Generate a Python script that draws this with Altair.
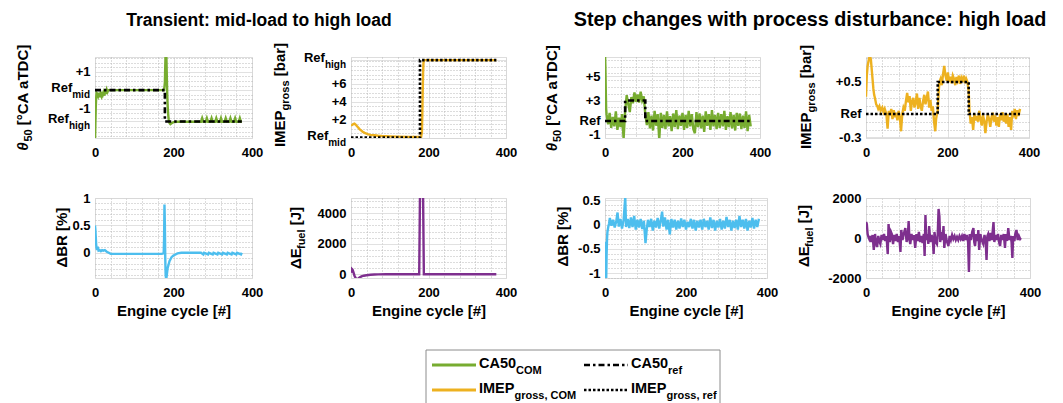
import json
import altair as alt
import pandas as pd

# ---------------- data ----------------
# Transient: mid-load -> high load   (x = engine cycle, y = axis units)
ca50_tr_com = [(0, -2.9), (1, -1.8), (2, -0.9), (3, -0.4), (4, -0.15), (6, -0.2), (8, -0.32), (10, -0.15),
               (12, -0.38), (14, -0.18), (16, -0.3), (18, -0.08), (20, -0.25), (22, -0.12), (24, -0.3),
               (26, -0.05), (28, -0.2), (30, 0.02), (32, -0.1), (34, 0.0), (40, 0.0), (100, 0.0), (170, 0.0),
               (176, 0.0), (178, 0.4), (179, 1.3), (180, 2.1), (181, 2.3), (182, 1.7), (183, 0.7), (184, -0.2),
               (185, -0.8), (186, -1.2), (187, -1.45), (188, -1.62), (190, -1.8), (192, -1.85), (195, -1.8),
               (200, -1.74), (210, -1.72), (270, -1.72), (273, -1.52), (276, -1.72), (282, -1.72), (285, -1.52),
               (288, -1.72), (294, -1.72), (297, -1.52), (300, -1.72), (306, -1.72), (309, -1.52), (312, -1.72),
               (318, -1.72), (321, -1.52), (324, -1.72), (330, -1.72), (333, -1.52), (336, -1.72), (342, -1.72),
               (345, -1.52), (348, -1.72), (354, -1.72), (357, -1.52), (360, -1.72), (366, -1.72), (369, -1.52),
               (372, -1.72), (374, -1.72)]
ca50_tr_ref = [(0, 0.0), (178, 0.0), (178, -1.7), (374, -1.7)]

imep_tr_com = [(0, 1.35), (3, 1.4), (6, 1.5), (9, 1.55), (12, 1.45), (15, 1.3), (18, 1.15), (22, 0.95),
               (26, 0.8), (30, 0.65), (35, 0.52), (40, 0.43), (45, 0.36), (50, 0.3), (60, 0.25), (70, 0.2),
               (80, 0.17), (100, 0.13), (120, 0.1), (150, 0.08), (181, 0.07), (183, 0.6), (184, 2.5),
               (185, 5.0), (186, 7.2), (187, 8.3), (188, 8.6), (190, 8.65), (375, 8.65)]
imep_tr_ref = [(0, 0.0), (178, 0.0), (178, 8.65), (375, 8.65)]

dbr_tr = [(0, 0.5), (1, 0.42), (2, 0.28), (3, 0.15), (4, 0.08), (5, 0.05), (7, 0.11), (9, 0.04), (12, 0.05),
          (15, 0.03), (18, 0.05), (21, 0.04), (25, 0.05), (30, 0.02), (35, 0.0), (40, -0.02), (100, -0.02),
          (170, -0.02), (175, -0.01), (176, 0.25), (177, 0.88), (178, 0.5), (179, -0.1), (180, -0.4),
          (181, -0.47), (182, -0.46), (183, -0.4), (185, -0.28), (188, -0.2), (190, -0.15), (195, -0.08),
          (200, -0.05), (205, -0.03), (210, -0.01), (220, 0.0), (270, 0.0), (276, -0.03), (278, 0.0),
          (288, -0.03), (290, 0.0), (300, -0.03), (302, 0.0), (312, -0.03), (314, 0.0), (324, -0.03),
          (326, 0.0), (336, -0.03), (338, 0.0), (348, -0.03), (350, 0.0), (360, -0.03), (362, 0.0),
          (372, -0.03), (374, 0.0)]

defuel_tr = [(0, 100), (2, 350), (4, 300), (6, 150), (9, -100), (12, -250), (15, -330), (18, -300), (22, -220),
             (27, -150), (33, -100), (40, -70), (50, -40), (60, -20), (70, -10), (90, 0), (176, 0), (177, 2500),
             (178, 5200), (186, 5200), (187, 2500), (188, 0), (375, 0)]

# Step changes with process disturbance: high load
ca50_st_com = [(0, 10), (1, 8), (2, 4.5), (3, 1.8), (4, 1.0), (8, -0.5), (12, 1.2), (16, -1.0), (20, 0.6),
               (24, -0.8), (28, 1.4), (32, -1.3), (36, 0.5), (40, -0.9), (44, 1.0), (48, -2.6), (52, 1.5),
               (56, 3.8), (60, 2.5), (64, 1.3), (68, 3.5), (72, 2.6), (76, 4.2), (80, 2.8), (84, 3.9),
               (88, 2.7), (92, 4.3), (96, 3.0), (100, 3.6), (104, 1.0), (108, -0.6), (112, 1.3), (116, -1.1),
               (120, 0.8), (124, -1.4), (128, 1.5), (132, -0.7), (136, 1.0), (140, -2.7), (144, 1.2),
               (148, -1.0), (152, 0.9), (156, -1.2), (160, 1.4), (164, -0.8), (168, 0.7), (172, -1.5),
               (176, 1.1), (180, -0.9), (184, 1.6), (188, -1.2), (192, 0.8), (196, -0.7), (200, 1.2),
               (204, -1.3), (208, 0.9), (212, -1.0), (216, 1.5), (220, -0.8), (224, 1.0), (228, -1.2),
               (232, -1.8), (236, 1.3), (240, -0.9), (244, 1.1), (248, -1.1), (252, 0.8), (256, -1.6),
               (260, 1.4), (264, -0.7), (268, 1.0), (272, -1.3), (276, 1.6), (280, -0.8), (284, 0.9),
               (288, -1.2), (292, 1.2), (296, -1.0), (300, 1.0), (304, -0.8), (308, 1.5), (312, -1.3),
               (316, 0.7), (320, -0.9), (324, 1.3), (328, -1.1), (332, 0.9), (336, -1.4), (340, 1.2),
               (344, -0.7), (348, 1.1), (352, -1.2), (356, 0.8), (360, -1.0), (364, 1.4), (368, -1.5),
               (372, 0.9), (376, -0.8)]
ca50_st_ref = [(0, 0), (52, 0), (52, 3), (104, 3), (104, 0), (378, 0)]

imep_st_com = [(0, 0.27), (2, 0.6), (4, 0.75), (6, 0.82), (8, 0.88), (10, 0.9), (12, 0.85), (14, 0.7),
               (16, 0.55), (18, 0.4), (20, 0.3), (22, 0.25), (25, 0.15), (28, 0.12), (30, 0.08), (33, 0.12),
               (36, 0.05), (40, 0.1), (43, 0.03), (46, 0.08), (50, 0.0), (53, -0.23), (56, 0.05), (59, -0.02),
               (62, 0.08), (65, -0.08), (68, 0.06), (71, -0.05), (74, 0.02), (77, -0.1), (80, 0.05),
               (83, -0.05), (86, -0.27), (89, 0.0), (92, 0.1), (95, 0.05), (98, 0.2), (101, 0.33), (104, 0.18),
               (107, 0.28), (110, 0.05), (113, 0.2), (116, 0.25), (119, 0.1), (122, 0.18), (125, 0.32),
               (128, 0.08), (131, 0.25), (134, 0.12), (137, 0.05), (140, 0.2), (143, 0.3), (146, 0.15),
               (149, 0.25), (152, 0.35), (155, 0.1), (158, 0.22), (161, 0.05), (164, 0.12), (167, -0.12),
               (170, -0.27), (172, -0.08), (174, 0.0), (176, 0.05), (178, 0.3), (180, 0.5), (183, 0.55),
               (186, 0.45), (189, 0.62), (192, 0.75), (195, 0.6), (198, 0.52), (201, 0.65), (204, 0.5),
               (207, 0.58), (210, 0.48), (213, 0.6), (216, 0.55), (219, 0.45), (222, 0.58), (225, 0.52),
               (228, 0.6), (231, 0.47), (234, 0.56), (237, 0.5), (240, 0.6), (243, 0.48), (246, 0.55),
               (249, 0.5), (252, 0.35), (254, 0.05), (257, -0.15), (260, -0.05), (263, -0.25), (266, 0.0),
               (269, -0.1), (272, -0.03), (275, -0.12), (278, 0.05), (281, -0.08), (284, -0.18), (287, -0.02),
               (290, -0.1), (293, -0.3), (296, -0.12), (299, 0.0), (302, -0.08), (305, -0.2), (308, -0.05),
               (311, 0.02), (314, -0.12), (317, -0.02), (320, -0.18), (323, -0.05), (326, -0.2), (329, 0.0),
               (332, -0.1), (335, 0.03), (338, -0.12), (341, -0.02), (344, -0.15), (347, 0.0), (350, -0.2),
               (353, -0.05), (356, -0.25), (359, 0.05), (362, -0.05), (365, 0.08), (368, -0.08), (371, 0.06),
               (374, -0.03), (378, 0.08)]
imep_st_ref = [(0, 0), (176, 0), (176, 0.5), (252, 0.5), (252, 0), (378, 0)]

dbr_st = [(0, -0.35), (1, -0.8), (2, -1.12), (3, -1.12), (4, -0.6), (5, -0.3), (6, -0.15), (8, -0.05),
          (10, 0.02), (12, 0.14), (16, -0.02), (20, 0.1), (24, -0.06), (28, 0.08), (31, 0.25), (34, -0.04),
          (38, 0.12), (42, -0.08), (46, 0.1), (50, 0.56), (52, -0.05), (56, 0.12), (60, -0.07), (64, 0.15),
          (68, -0.05), (72, 0.18), (76, -0.1), (80, 0.1), (84, -0.06), (88, 0.12), (92, -0.09), (96, 0.08),
          (100, -0.38), (103, -0.1), (106, 0.1), (110, -0.05), (114, 0.12), (118, -0.12), (122, 0.08),
          (126, -0.06), (130, 0.14), (134, -0.08), (138, 0.1), (141, 0.27), (144, -0.04), (148, 0.15),
          (152, -0.1), (156, 0.1), (160, -0.2), (164, 0.12), (168, -0.06), (172, 0.1), (176, -0.1),
          (180, 0.08), (184, -0.08), (188, 0.13), (192, -0.05), (196, 0.1), (200, -0.1), (204, 0.06),
          (208, -0.05), (212, 0.12), (216, -0.08), (220, 0.1), (224, -0.12), (228, 0.08), (232, -0.06),
          (236, 0.1), (240, -0.1), (244, 0.12), (248, -0.05), (252, 0.08), (256, -0.1), (260, 0.15),
          (264, -0.07), (268, 0.1), (272, -0.12), (276, 0.08), (280, -0.06), (284, 0.12), (288, -0.1),
          (292, 0.08), (296, -0.08), (300, 0.16), (304, -0.05), (308, 0.1), (312, -0.12), (316, 0.08),
          (320, -0.07), (324, 0.1), (328, -0.1), (332, 0.18), (336, -0.05), (340, 0.1), (344, -0.08),
          (348, 0.12), (352, -0.12), (356, 0.08), (360, -0.06), (364, 0.14), (368, -0.08), (372, 0.1),
          (376, -0.05), (380, 0.12)]

defuel_st = [(0, 800), (2, 700), (4, 200), (6, 50), (8, -50), (10, 100), (13, -200), (16, 150), (19, -600),
             (22, 200), (25, -300), (27, -450), (30, 100), (33, -200), (35, -300), (38, 150), (41, -100),
             (44, 200), (47, -150), (50, 100), (53, -800), (55, 700), (58, -200), (61, 300), (63, 200),
             (66, -300), (69, 150), (72, -150), (75, 200), (78, -200), (81, 100), (84, -700), (86, 400),
             (89, -100), (92, 200), (96, 500), (99, -200), (102, 100), (104, 850), (106, -100), (108, -300),
             (111, 200), (114, -100), (117, 150), (120, -500), (123, 200), (126, -150), (129, 300),
             (132, -200), (135, 100), (138, -250), (141, 200), (143, -900), (145, 1150), (147, -100),
             (150, 200), (152, -300), (154, 600), (157, -200), (160, 150), (163, -100), (165, -800),
             (167, 300), (170, -200), (173, -300), (175, 200), (177, 1450), (179, 1100), (181, -200),
             (184, 300), (187, -100), (189, 600), (191, -500), (194, 200), (197, -150), (201, -400),
             (204, 100), (207, -100), (210, 150), (213, -50), (216, 100), (219, -100), (222, 50), (225, -100),
             (228, 100), (231, -50), (234, 100), (237, -150), (240, 200), (243, -100), (246, 150),
             (249, -200), (251, -1700), (253, 200), (256, -100), (259, 300), (262, 500), (264, -200),
             (266, -400), (269, 200), (272, -150), (274, 400), (276, -600), (279, 200), (282, -100),
             (286, -300), (289, 150), (292, -200), (294, -1100), (296, 100), (298, 200), (301, -150),
             (304, 250), (307, -100), (311, 800), (313, -200), (316, 150), (319, -100), (322, 200),
             (325, -250), (327, -400), (330, 150), (333, -100), (336, 200), (339, -500), (341, 200),
             (344, -150), (347, 500), (350, -100), (353, 100), (355, -200), (357, -1000), (359, 100),
             (362, -150), (364, 200), (367, 400), (370, -100), (373, 100), (376, -50), (378, 0)]

# ---------------- style ----------------
FONT = "Liberation Sans"
INK = "#000000"
GREEN, ORANGE, BLUE, PURPLE = "#77AC30", "#EDB120", "#4DBEEE", "#7E2F8E"
DASHDOT = [6, 3, 2.5, 3]
DOTTED = [2.5, 2]
MAJOR_GRID, MINOR_GRID = "#d6d6d6", "#b8b8b8"
ONE = pd.DataFrame({"k": [0]})

AW = {' ': 278, '#': 556, '%': 889, '+': 584, ',': 278, '-': 333, '.': 278, ':': 333, '[': 333, ']': 333,
      '°': 400, 'A': 722, 'B': 722, 'C': 722, 'D': 722, 'E': 667, 'I': 278, 'J': 556, 'M': 833, 'O': 778,
      'P': 667, 'R': 722, 'T': 611, 'a': 556, 'b': 611, 'c': 556, 'd': 611, 'e': 556, 'f': 333, 'g': 611,
      'h': 611, 'i': 278, 'l': 278, 'm': 889, 'o': 611, 'r': 389, 's': 556, 'u': 611, 'θ': 611, 'Δ': 667}


def tw(s, size):
    return sum(AW.get(c, 556) for c in s) / 1000.0 * size


def df(pairs):
    return pd.DataFrame({"x": [p[0] for p in pairs], "y": [p[1] for p in pairs], "i": list(range(len(pairs)))})


def T(text, x, y, size, align="left", baseline="alphabetic", angle=None, dx=0, dy=0, italic=False):
    kw = dict(text=text, font=FONT, fontSize=size, fontWeight="bold", color=INK, align=align,
              baseline=baseline, dx=dx, dy=dy)
    if angle is not None:
        kw["angle"] = angle
    if italic:
        kw["fontStyle"] = "italic"
    if isinstance(y, tuple):
        yenc = alt.YDatum(y[1], scale=y[2], axis=y[3])
    else:
        yenc = alt.value(y)
    return alt.Chart(ONE).mark_text(**kw).encode(x=alt.value(x), y=yenc)


def R(x1, x2, y1, y2, color, width, dash=None, opacity=1.0):
    kw = dict(color=color, strokeWidth=width, opacity=opacity)
    if dash:
        kw["strokeDash"] = dash
    return alt.Chart(ONE).mark_rule(**kw).encode(x=alt.value(x1), x2=alt.value(x2),
                                                  y=alt.value(y1), y2=alt.value(y2))


def ytitle(parts, bx, cy, size=15, sub=11):
    total = 0
    for t, k in parts:
        total += tw(t, sub if k == "s" else size)
    y0 = cy + total / 2
    out, off = [], 0
    for t, k in parts:
        s = sub if k == "s" else size
        lead = len(t) - len(t.lstrip(" "))
        out.append(T(t.lstrip(" "), bx, y0, s, align="left", angle=270, dx=off + lead * 0.278 * s,
                     dy=(4 if k == "s" else 0), italic=(k == "i")))
        off += tw(t, s)
    return out


def axis(major, labels, minor, ch, title=None):
    vals = sorted(set(major) | set(minor))
    test = "indexof(%s, datum.value) >= 0" % json.dumps(major)
    expr = "".join("datum.value === %s ? %s : " % (json.dumps(v), json.dumps(l))
                   for v, l in zip(major, labels)) + "''"
    kw = dict(values=vals, labelExpr=expr, grid=True,
              gridDash={"condition": {"test": test, "value": [1, 0]}, "value": [1, 2]},
              gridColor={"condition": {"test": test, "value": MAJOR_GRID}, "value": MINOR_GRID},
              gridWidth=1, ticks=False, domain=False, labelFont=FONT, labelFontSize=13,
              labelFontWeight="bold", labelColor=INK, labelPadding=(8 if ch == "x" else 5),
              labelOverlap=False, labelFlush=False, title=title)
    if title:
        kw.update(titleFont=FONT, titleFontSize=15, titleFontWeight="bold", titleColor=INK, titlePadding=4)
    return alt.Axis(**kw)


def steps(a, b, s, avoid):
    out = []
    v = a
    while v <= b + 1e-9:
        r = round(v, 6)
        if all(abs(r - m) > s * 0.3 for m in avoid):
            out.append(r)
        v += s
    return out


X_MAJOR = [0, 200, 400]
X_MINOR = steps(0, 400, 40, X_MAJOR)


def panel(w, h, ydom, major, labels, minor, lines, extra, xtitle=None, refs=()):
    xs = alt.Scale(domain=[0, 400], nice=False, zero=False)
    ys = alt.Scale(domain=ydom, nice=False, zero=False)
    xa = axis(X_MAJOR, ["0", "200", "400"], X_MINOR, "x", title=xtitle)
    ya = axis(major, labels, minor, "y")
    layers = []
    for pairs, color, dash in lines:
        mk = dict(color=color, strokeWidth=2.4, clip=True)
        if dash:
            mk["strokeDash"] = dash
            mk["strokeWidth"] = 2.6
        layers.append(alt.Chart(df(pairs)).mark_line(**mk).encode(
            x=alt.X("x:Q", scale=xs, axis=xa),
            y=alt.Y("y:Q", scale=ys, axis=ya),
            order=alt.Order("i:Q")))
    # "Ref" tick labels with subscripts, placed through the y scale
    for val, sub in refs:
        w_sub = tw(sub, 10)
        layers.append(T("Ref", -5 - w_sub, ("d", val, ys, ya), 13, align="right", baseline="middle", dy=-2))
        layers.append(T(sub, -5 - w_sub, ("d", val, ys, ya), 10, align="left", baseline="middle", dy=5))
    layers += extra
    return alt.layer(*layers).properties(width=w, height=h)


THETA = [("θ", "i"), ("50", "s"), (" [°CA aTDC]", "n")]
IMEP = [("IMEP", "n"), ("gross", "s"), (" [bar]", "n")]
DBR = [("ΔBR [%]", "n")]
DEF = [("ΔE", "n"), ("fuel", "s"), (" [J]", "n")]

# ---- top row ----
p1 = panel(157, 81, [-2.6, 1.8], [-1.7, -1, 0, 1], ["", "-1", "", "+1"],
           steps(-2.5, 1.75, 0.25, [-1.7, -1, 0, 1]),
           [(ca50_tr_com, GREEN, None), (ca50_tr_ref, "#000000", DASHDOT)],
           [R(-94, -92, -56, -56, "#ffffff", 1, opacity=0.0),
            T("Transient: mid-load to high load", 164, -31, 17.5, align="center")]
           + ytitle(THETA, -67, 40.5), refs=[(0, "mid"), (-1.7, "high")])

p2 = panel(155, 81, [-0.05, 9.0], [0, 2, 4, 6, 8.65], ["", "+2", "+4", "+6", ""],
           steps(0.5, 8.5, 0.5, [0, 2, 4, 6, 8.65]),
           [(imep_tr_com, ORANGE, None), (imep_tr_ref, "#000000", DOTTED)],
           ytitle(IMEP, -66, 38), refs=[(0, "mid"), (8.65, "high")])

p3 = panel(155, 81, [-2.5, 9.4], [-1.95, 0, 3, 6.6], ["-1", "Ref", "+3", "+5"],
           steps(-2, 9, 1, [-1.95, 0, 3, 6.6]),
           [(ca50_st_com, GREEN, None), (ca50_st_ref, "#000000", DASHDOT)],
           [T("Step changes with process disturbance: high load", 205, -31, 19.8, align="center")]
           + ytitle(THETA, -48, 41))

p4 = panel(163, 81, [-0.375, 0.89], [-0.36, 0, 0.5], ["-0.3", "Ref", "+0.5"],
           steps(-0.25, 0.875, 0.125, [-0.36, 0, 0.5]),
           [(imep_st_com, ORANGE, None), (imep_st_ref, "#000000", DOTTED)],
           ytitle(IMEP, -55, 40))

# ---- bottom row ----
ET = "Engine cycle [#]"
p5 = panel(157, 80, [-0.46, 1.0], [0, 0.5, 1], ["0", "0.5", "1"],
           steps(-0.4, 0.9, 0.1, [0, 0.5, 1]),
           [(dbr_tr, BLUE, None)], ytitle(DBR, -28, 40), xtitle=ET)

legend = [R(75, 369, 152, 152, "#8c8c8c", 1), R(75, 75, 152, 205, "#8c8c8c", 1),
          R(369, 369, 152, 205, "#8c8c8c", 1),
          R(81, 125, 167, 167, GREEN, 3), R(233, 277, 167, 167, "#000000", 2.6, DASHDOT),
          R(81, 125, 192, 192, ORANGE, 3), R(233, 277, 192, 192, "#000000", 2.6, DOTTED),
          T("CA50", 128, 167, 14.5, baseline="middle", dy=-1),
          T("COM", 128 + tw("CA50", 14.5), 167, 11, baseline="middle", dy=6),
          T("CA50", 280, 167, 14.5, baseline="middle", dy=-1),
          T("ref", 280 + tw("CA50", 14.5), 167, 11, baseline="middle", dy=6),
          T("IMEP", 128, 192, 14.5, baseline="middle", dy=-1),
          T("gross, COM", 128 + tw("IMEP", 14.5), 192, 11, baseline="middle", dy=6),
          T("IMEP", 280, 192, 14.5, baseline="middle", dy=-1),
          T("gross, ref", 280 + tw("IMEP", 14.5), 192, 11, baseline="middle", dy=6)]

p6 = panel(155, 80, [-250, 5000], [0, 2000, 4000], ["0", "2000", "4000"],
           steps(400, 4800, 400, [0, 2000, 4000]),
           [(defuel_tr, PURPLE, None)], ytitle(DEF, -50, 40) + legend, xtitle=ET)

p7 = panel(162, 80, [-1.1, 0.55], [-1, -0.5, 0, 0.5], ["-1", "-0.5", "0", "0.5"],
           steps(-1.1, 0.5, 0.1, [-1, -0.5, 0, 0.5]),
           [(dbr_st, BLUE, None)], ytitle(DBR, -37, 39), xtitle=ET)

p8 = panel(164, 80, [-2000, 2000], [-2000, 0, 2000], ["-2000", "0", "2000"],
           steps(-1600, 1600, 400, [-2000, 0, 2000]),
           [(defuel_st, PURPLE, None)], ytitle(DEF, -57, 38), xtitle=ET)

chart = alt.concat(p1, p2, p3, p4, p5, p6, p7, p8, columns=4,
                   spacing={"row": 60, "column": 99}, bounds="flush", align="each"
                   ).properties(padding=0, background="white"
                   ).configure_view(stroke="#8c8c8c", strokeWidth=1
                   ).configure(font=FONT)

chart.save("out.html", embed_options={"renderer": "svg", "actions": False})
